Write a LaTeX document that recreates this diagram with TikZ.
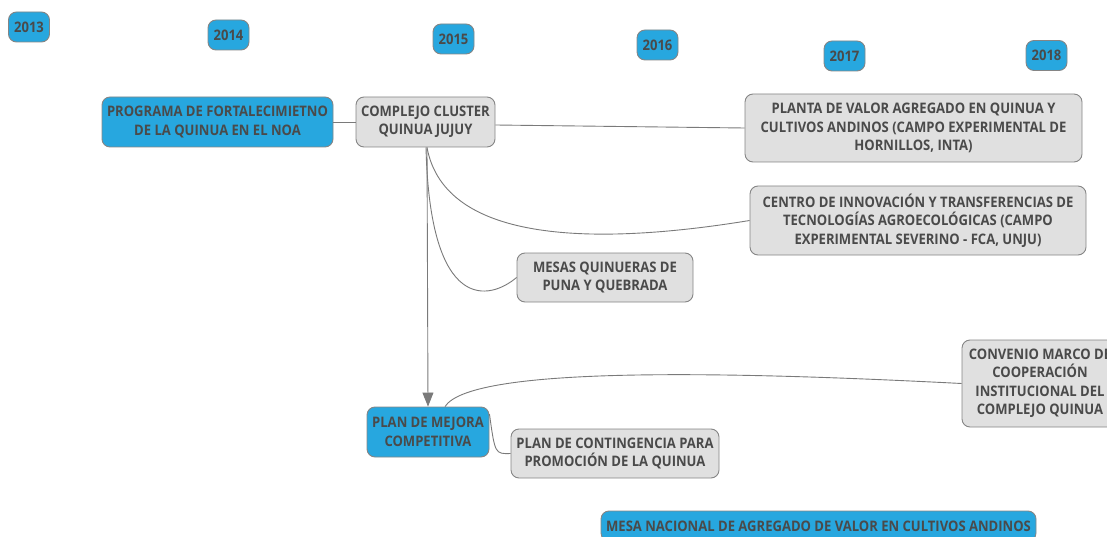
\documentclass[tikz,border=0pt]{standalone}
\usepackage{fontspec}
\setmainfont{Open Sans}[FakeStretch=0.9]
\usetikzlibrary{arrows.meta}
\definecolor{bluebox}{HTML}{27A7DF}
\definecolor{graybox}{HTML}{E0E0E0}
\definecolor{boxline}{HTML}{858585}
\definecolor{txt}{HTML}{4A4A4A}
\definecolor{conn}{HTML}{7A7A7A}
\tikzset{
  base/.style={draw=boxline, line width=0.9pt, rounded corners=8pt, align=center,
    font=\fontsize{14.5}{18.5}\selectfont\bfseries, text=txt, inner sep=0pt},
  yearbox/.style={base, fill=bluebox, minimum width=41pt, minimum height=30pt},
  bluenode/.style={base, fill=bluebox},
  graynode/.style={base, fill=graybox},
  link/.style={draw=conn, line width=0.9pt},
}
\begin{document}
\begin{tikzpicture}[x=1pt,y=-1pt]
\useasboundingbox (0,0) rectangle (1107,537);
\node[yearbox] (y13) at (29,27) {2013};
\node[yearbox] (y14) at (228.5,35) {2014};
\node[yearbox] (y15) at (453.5,39) {2015};
\node[yearbox] (y16) at (657.5,45) {2016};
\node[yearbox] (y17) at (844.5,56) {2017};
\node[yearbox] (y18) at (1046.5,55.5) {2018};

\node[bluenode, minimum width=231pt, minimum height=50pt] (prog) at (217.5,122) {PROGRAMA DE FORTALECIMIETNO\\DE LA QUINUA EN EL NOA};
\node[graynode, minimum width=139pt, minimum height=50pt] (comp) at (425.5,122) {COMPLEJO CLUSTER\\QUINUA JUJUY};
\node[graynode, minimum width=337pt, minimum height=68pt] (planta) at (913.5,128) {PLANTA DE VALOR AGREGADO EN QUINUA Y\\CULTIVOS ANDINOS (CAMPO EXPERIMENTAL DE\\HORNILLOS, INTA)};
\node[graynode, minimum width=336pt, minimum height=69pt] (centro) at (918,220.5) {CENTRO DE INNOVACIÓN Y TRANSFERENCIAS DE\\TECNOLOGÍAS AGROECOLÓGICAS (CAMPO\\EXPERIMENTAL SEVERINO - FCA, UNJU)};
\node[graynode, minimum width=176pt, minimum height=49pt] (mesas) at (605,277.5) {MESAS QUINUERAS DE\\PUNA Y QUEBRADA};
\node[graynode, minimum width=156pt, minimum height=87pt] (conv) at (1040,383.5) {CONVENIO MARCO DE\\COOPERACIÓN\\INSTITUCIONAL DEL\\COMPLEJO QUINUA};
\node[bluenode, minimum width=122pt, minimum height=50pt] (mejora) at (428,432) {PLAN DE MEJORA\\COMPETITIVA};
\node[graynode, minimum width=208pt, minimum height=49pt] (cont) at (615,453.5) {PLAN DE CONTINGENCIA PARA\\PROMOCIÓN DE LA QUINUA};
\node[bluenode, minimum width=435pt, minimum height=30pt] (nac) at (818.5,526) {MESA NACIONAL DE AGREGADO DE VALOR EN CULTIVOS ANDINOS};

\draw[link] (prog.east) -- (comp.west);
\draw[link] (comp.east |- 0,125) .. controls (620,126) .. (planta.west);
\draw[link] (comp.south -| 427,0) .. controls (445,245) and (600,245) .. (centro.west);
\draw[link] (comp.south -| 426,0) .. controls (430,315) and (490,300) .. (mesas.west);
\draw[link, -{Triangle[length=14pt,width=11pt]}] (comp.south -| 427,0) -- (mejora.north);
\draw[link] ([xshift=17pt]mejora.north) .. controls (470,368) and (700,370) .. (conv.west);
\draw[link] ([yshift=18pt]mejora.east) .. controls (495,454) .. (cont.west);
\end{tikzpicture}
\end{document}
